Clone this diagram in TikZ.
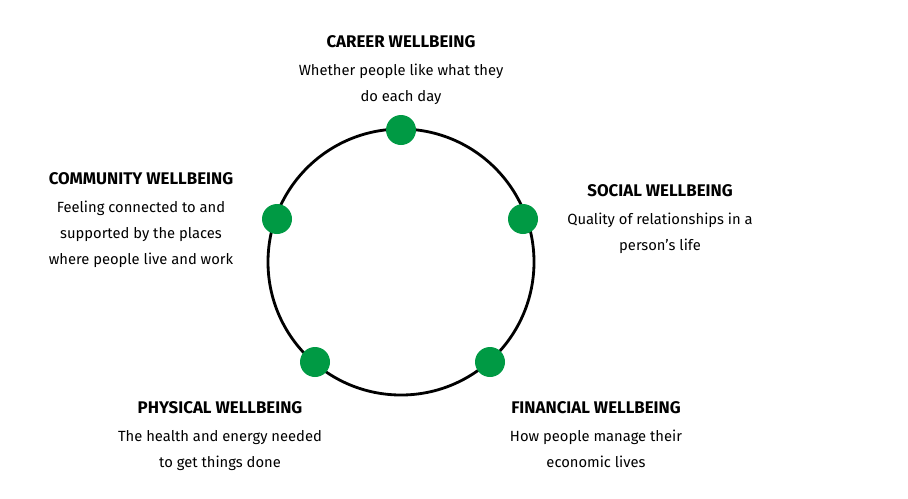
\documentclass[tikz,border=0pt]{standalone}
\usepackage{fontspec}
\setmainfont{Fira Sans}
\definecolor{dotgreen}{HTML}{009A44}
\begin{document}
\begin{tikzpicture}[x=0.02cm,y=-0.02cm,
    dot/.style = {circle, fill=dotgreen, minimum size=0.6cm, inner sep=0pt},
    head/.style = {font=\fontsize{9.6}{11}\selectfont\bfseries, inner sep=0pt},
    body/.style = {font=\fontsize{8.4}{14.7}\selectfont, align=center, inner sep=0pt, anchor=north}
]
\useasboundingbox (0,0) rectangle (908,498);
% ring
\draw[line width=1.6pt] (401,262) circle (133);
% dots on the ring
\node[dot] (career) at (401,130) {};
\node[dot] (social) at (523,219) {};
\node[dot] (community) at (277,219) {};
\node[dot] (physical) at (315,362) {};
\node[dot] (financial) at (490,362) {};
% labels
\node[head] (careerH) at (401,42) {CAREER WELLBEING};
\node[body] at (401,64) {Whether people like what they\\do each day};
\node[head] (communityH) at (141,179) {COMMUNITY WELLBEING};
\node[body] at (141,201) {Feeling connected to and\\supported by the places\\where people live and work};
\node[head] (socialH) at (660,191) {SOCIAL WELLBEING};
\node[body] at (660,213) {Quality of relationships in a\\person’s life};
\node[head] (physicalH) at (220,408) {PHYSICAL WELLBEING};
\node[body] at (220,430) {The health and energy needed\\to get things done};
\node[head] (financialH) at (596,408) {FINANCIAL WELLBEING};
\node[body] at (596,430) {How people manage their\\economic lives};
\end{tikzpicture}
\end{document}
